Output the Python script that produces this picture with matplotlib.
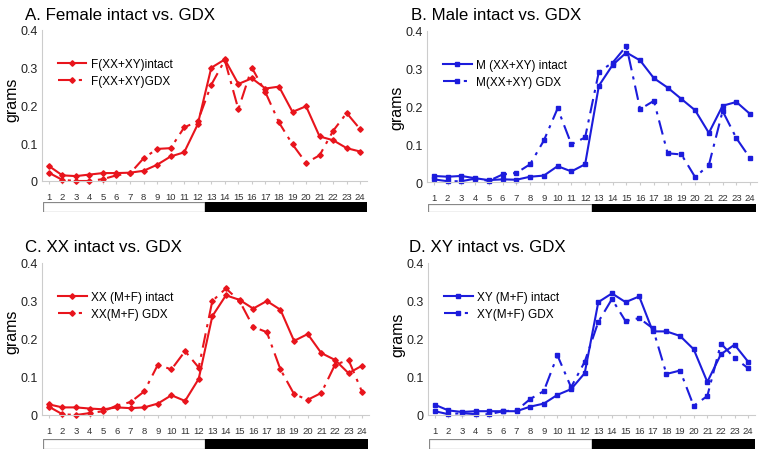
import numpy as np
import matplotlib.pyplot as plt
from matplotlib.patches import Rectangle

plt.rcParams['font.family'] = ['Liberation Sans', 'DejaVu Sans']

# hour of day
hours = list(range(1, 25))

# A. female
f_intact = [0.040, 0.015, 0.013, 0.017, 0.021, 0.021, 0.022, 0.027, 0.043, 0.065, 0.076, 0.150,
            0.300, 0.322, 0.257, 0.272, 0.245, 0.250, 0.183, 0.198, 0.118, 0.108, 0.087, 0.078]
f_gdx = [0.022, 0.003, 0.000, 0.000, 0.005, 0.015, 0.020, 0.060, 0.085, 0.087, 0.142, 0.158,
         0.255, 0.320, 0.190, 0.300, 0.235, 0.155, 0.097, 0.048, 0.068, 0.133, 0.180, 0.137]
# B. male
m_intact = [0.016, 0.014, 0.016, 0.010, 0.005, 0.007, 0.006, 0.014, 0.017, 0.042, 0.028, 0.047,
            0.255, 0.310, 0.343, 0.322, 0.275, 0.250, 0.220, 0.190, 0.130, 0.202, 0.212, 0.180]
m_gdx = [0.007, 0.002, 0.002, 0.009, 0.003, 0.020, 0.024, 0.047, 0.110, 0.195, 0.100, 0.118,
         0.292, 0.316, 0.360, 0.193, 0.215, 0.076, 0.073, 0.013, 0.045, 0.188, 0.116, 0.063]
# C. XX
xx_intact = [0.028, 0.020, 0.020, 0.017, 0.015, 0.020, 0.018, 0.020, 0.030, 0.052, 0.037, 0.095,
             0.260, 0.315, 0.303, 0.280, 0.300, 0.277, 0.195, 0.213, 0.163, 0.145, 0.110, 0.130]
xx_gdx = [0.022, 0.002, 0.000, 0.005, 0.010, 0.025, 0.034, 0.062, 0.132, 0.120, 0.168, 0.125,
          0.300, 0.333, 0.300, 0.232, 0.218, 0.120, 0.055, 0.040, 0.058, 0.132, 0.145, 0.060]
# D. XY
xy_intact = [0.027, 0.012, 0.008, 0.010, 0.010, 0.010, 0.010, 0.022, 0.030, 0.053, 0.068, 0.110,
             0.297, 0.320, 0.297, 0.312, 0.220, 0.220, 0.208, 0.173, 0.087, 0.160, 0.185, 0.140]
xy_gdx = [0.010, 0.002, 0.005, 0.002, 0.002, 0.010, 0.012, 0.042, 0.063, 0.157, 0.073, 0.140,
          0.245, 0.305, 0.247, 0.255, 0.228, 0.108, 0.117, 0.024, 0.050, 0.188, 0.150, 0.123]

titles = ["A. Female intact vs. GDX", "B. Male intact vs. GDX",
          "C. XX intact vs. GDX", "D. XY intact vs. GDX"]
labels = [("F(XX+XY)intact", "F(XX+XY)GDX"),
          ("M (XX+XY) intact", "M(XX+XY) GDX"),
          ("XX (M+F) intact", "XX(M+F) GDX"),
          ("XY (M+F) intact", "XY(M+F) GDX")]
series = [(f_intact, f_gdx), (m_intact, m_gdx), (xx_intact, xx_gdx), (xy_intact, xy_gdx)]

RED = '#e8141c'
BLUE = '#1c1cdc'
colors = [RED, BLUE, RED, BLUE]
markers = ['D', 's', 'D', 's']
msizes = [2.8, 3.0, 2.8, 3.0]

W, H = 764, 460
fig = plt.figure(figsize=(W / 100, H / 100), dpi=100)

def box(l, r, t, b):
    return [l / W, 1 - b / H, (r - l) / W, (b - t) / H]

# pixel boxes: plot area, day/night bar, title position, ylabel centre
plot_boxes = [(42, 367, 31, 182), (427, 757, 32, 183), (42, 369, 264, 416), (428, 755, 264, 416)]
bar_boxes = [(43, 367, 203, 213), (428, 756, 205, 213), (43, 368, 440, 450), (429, 755, 440, 450)]
title_pos = [(25, 15), (411, 15), (25, 248), (409, 248)]
ylab_pos = [(12, 100), (397, 108), (12, 332), (398, 335)]

for i in range(4):
    c = colors[i]
    l, r, t, b = plot_boxes[i]
    ax = fig.add_axes(box(l, r, t, b))
    intact, gdx = series[i]
    ax.plot(hours, intact, color=c, lw=1.5, marker=markers[i], ms=msizes[i],
            label=labels[i][0], clip_on=False)
    ax.plot(hours, gdx, color=c, lw=1.5, marker=markers[i], ms=msizes[i],
            dashes=(7, 3, 1.5, 3), label=labels[i][1], clip_on=False)
    ax.set_xlim(0.5, 24.5)
    ax.set_ylim(0, 0.4)
    ax.set_xticks(hours)
    ax.set_xticklabels([str(h) for h in hours], fontsize=6.8, color='#333333')
    ax.set_yticks([0, 0.1, 0.2, 0.3, 0.4])
    ax.set_yticklabels(['0', '0.1', '0.2', '0.3', '0.4'], fontsize=9, color='#222222')
    ax.tick_params(axis='y', length=0, pad=3)
    ax.tick_params(axis='x', length=2, color='#cccccc', pad=6)
    for s in ['top', 'right']:
        ax.spines[s].set_visible(False)
    for s in ['left', 'bottom']:
        ax.spines[s].set_color('#cccccc')
        ax.spines[s].set_linewidth(0.8)
    ax.set_ylabel('grams', fontsize=11.5, va='center')
    lx, ly = ylab_pos[i]
    ax.yaxis.set_label_coords((lx - l) / (r - l), (b - ly) / (b - t))
    ax.legend(loc='upper left', bbox_to_anchor=(0.035, 0.845), frameon=False,
              fontsize=8.5, handlelength=2.4, handletextpad=0.35, labelspacing=0.4,
              borderaxespad=0)
    fig.text(title_pos[i][0] / W, 1 - title_pos[i][1] / H, titles[i],
             fontsize=12.2, va='center', ha='left')

    bx = fig.add_axes(box(*bar_boxes[i]))
    bx.set_xlim(0.5, 24.5)
    bx.set_ylim(0, 1)
    bx.add_patch(Rectangle((0.5, 0), 12, 1, facecolor='white', edgecolor='#888888', lw=0.9))
    bx.add_patch(Rectangle((12.5, 0), 12, 1, facecolor='black', edgecolor='black', lw=0.9))
    bx.axis('off')

fig.savefig('out.png', dpi=100)
